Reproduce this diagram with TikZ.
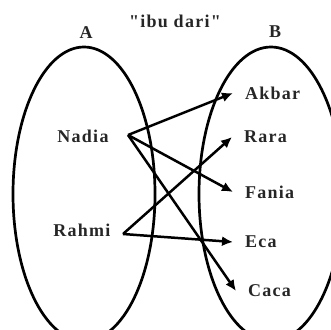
\documentclass[tikz,border=0pt]{standalone}
\usepackage{fontspec}
\setmainfont{Liberation Serif}
\newfontfamily\lblfont[LetterSpace=7]{Liberation Serif}
\usetikzlibrary{arrows.meta}
\begin{document}
\begin{tikzpicture}[x=1pt,y=-1pt,
  setline/.style={draw, line width=2.7pt},
  lbl/.style={font=\lblfont\bfseries\fontsize{18}{20}\selectfont, inner sep=0pt, text=black!85},
  elem/.style={lbl, inner xsep=12pt, inner ysep=0pt, anchor=west},
  rel/.style={line width=2.5pt, -{Latex[length=11pt,width=10pt]}}]
\useasboundingbox (0,0) rectangle (331,329);
\clip (0,0) rectangle (331,329);
\draw[setline] (84,194) ellipse [x radius=71, y radius=147];
\draw[setline] (271,194) ellipse [x radius=72, y radius=147];
\node[lbl] (ta) at (86,33) {A};
\node[lbl] (tb) at (275,32) {B};
\node[lbl] (title) at (175,21) {"ibu dari"};
\node[lbl] (nadia) at (83,136) {Nadia};
\node[lbl] (rahmi) at (82,230) {Rahmi};
\coordinate (nd) at (128,135);
\coordinate (rh) at (123,234);
\node[elem] (akbar) at (233,93) {Akbar};
\node[elem] (rara) at (232,137) {Rara};
\node[elem] (fania) at (233,192) {Fania};
\node[elem] (eca) at (233,242) {Eca};
\node[elem] (caca) at (236,291) {Caca};
\draw[rel] (nd) -- (akbar.west);
\draw[rel] (nd) -- (fania.west);
\draw[rel] (nd) -- (caca.west);
\draw[rel] (rh) -- (rara.west);
\draw[rel] (rh) -- (eca.west);
\end{tikzpicture}
\end{document}
